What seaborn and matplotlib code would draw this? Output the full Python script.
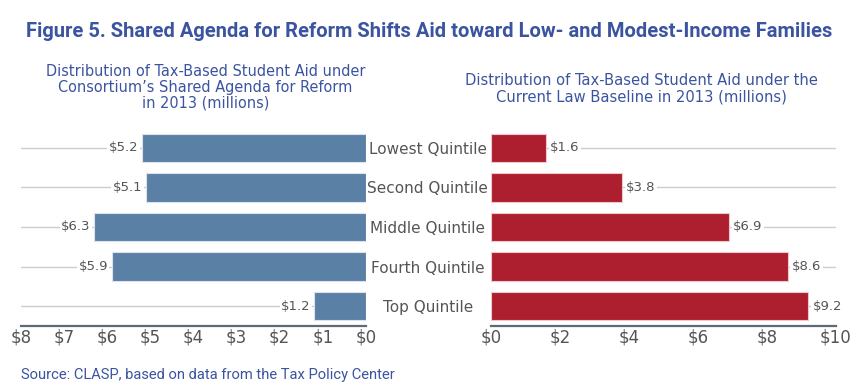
import matplotlib
matplotlib.use('Agg')
import pandas as pd
import matplotlib.pyplot as plt
import seaborn as sns

# --- data ---
quintiles = ['Lowest Quintile', 'Second Quintile', 'Middle Quintile',
             'Fourth Quintile', 'Top Quintile']
reform_aid = [5.2, 5.1, 6.3, 5.9, 1.2]
baseline_aid = [1.6, 3.8, 6.9, 8.6, 9.2]
left_ticks = [0, 1, 2, 3, 4, 5, 6, 7, 8]
right_ticks = [0, 2, 4, 6, 8, 10]

df = pd.DataFrame({'Quintile': quintiles,
                   'Reform': reform_aid,
                   'Baseline': baseline_aid})

sns.set_style('white')
plt.rcParams['font.family'] = ['DejaVu Sans']

blue_txt = '#3b54a0'
grey_txt = '#555555'
grid_col = '#cccccc'
spine_col = '#5d6b78'

fig = plt.figure(figsize=(8.59, 3.88), dpi=100)
ax_l = fig.add_axes([0.0244, 0.160, 0.4016, 0.510])
ax_r = fig.add_axes([0.5716, 0.160, 0.4016, 0.510])


def style_axis(ax, ticks):
    ax.set_xticks(ticks)
    ax.set_xticklabels(['$' + str(t) for t in ticks], fontsize=12, color=grey_txt)
    ax.tick_params(axis='x', length=0, pad=2)
    ax.set_xlabel('')
    ax.set_ylabel('')
    for s in ['top', 'left', 'right']:
        ax.spines[s].set_visible(False)
    ax.spines['bottom'].set_color(spine_col)
    ax.spines['bottom'].set_linewidth(1.6)
    ax.yaxis.grid(True, color=grid_col, linewidth=1)
    ax.xaxis.grid(False)
    ax.set_axisbelow(True)
    ax.set_ylim(4.5, -0.5)


# --- left: shared agenda for reform ---
sns.barplot(data=df, y='Quintile', x='Reform', orient='h', ax=ax_l,
            color='#5b80a6', saturation=1, width=0.72,
            edgecolor='#dbe4ee', linewidth=0.8)
ax_l.set_xlim(8, 0)
style_axis(ax_l, left_ticks)
ax_l.yaxis.tick_right()
ax_l.set_yticks(range(len(quintiles)))
ax_l.set_yticklabels(quintiles, fontsize=11, color=grey_txt, ha='center')
ax_l.tick_params(axis='y', length=0, pad=44.5)
ax_l.bar_label(ax_l.containers[0], fmt='${:.1f}', padding=2.5, fontsize=9.5,
               color=grey_txt, bbox=dict(fc='white', ec='none', pad=1))

# --- right: current law baseline ---
sns.barplot(data=df, y='Quintile', x='Baseline', orient='h', ax=ax_r,
            color='#ad1f2e', saturation=1, width=0.72,
            edgecolor='#f0c8cc', linewidth=0.8)
ax_r.set_xlim(0, 10)
style_axis(ax_r, right_ticks)
ax_r.set_yticks(range(len(quintiles)))
ax_r.set_yticklabels([])
ax_r.tick_params(axis='y', length=0)
ax_r.bar_label(ax_r.containers[0], fmt='${:.1f}', padding=3, fontsize=9.5,
               color=grey_txt, bbox=dict(fc='white', ec='none', pad=1))

# --- titles ---
fig.text(0.5, 0.918, 'Figure 5. Shared Agenda for Reform Shifts Aid toward Low- and Modest-Income Families',
         ha='center', va='center', fontsize=14.5, fontweight='bold', color=blue_txt,
         family='Roboto')
fig.text(0.239, 0.775, 'Distribution of Tax-Based Student Aid under\n'
         'Consortium\u2019s Shared Agenda for Reform\nin 2013 (millions)',
         ha='center', va='center', fontsize=11.6, color=blue_txt,
         fontstretch='condensed', linespacing=1.1)
fig.text(0.747, 0.772, 'Distribution of Tax-Based Student Aid under the\n'
         'Current Law Baseline in 2013 (millions)',
         ha='center', va='center', fontsize=11.8, color=blue_txt,
         fontstretch='condensed', linespacing=1.1)
fig.text(0.024, 0.033, 'Source: CLASP, based on data from the Tax Policy Center',
         ha='left', va='center', fontsize=10.6, color=blue_txt, family='Roboto')

fig.savefig('out.png', dpi=100)
